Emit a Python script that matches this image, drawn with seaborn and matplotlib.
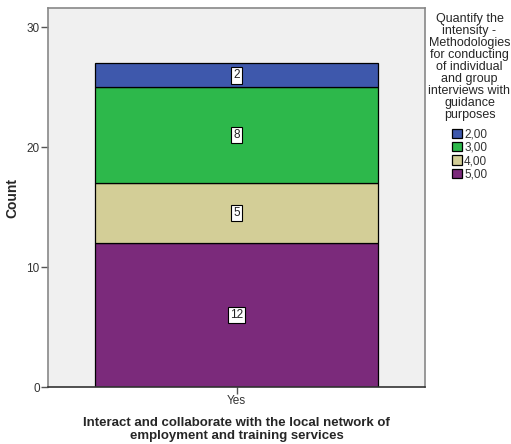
import numpy as np
import pandas as pd
import seaborn as sns
import matplotlib.pyplot as plt

# data
category = ["Yes"]
levels = ["2,00", "3,00", "4,00", "5,00"]
counts = [2, 8, 5, 12]
colors = ["#3e58ac", "#2db84b", "#d3ce97", "#7b2a7b"]

sns.set_style("white")
plt.rcParams["font.family"] = ["Liberation Sans", "DejaVu Sans"]

df = pd.DataFrame({"x": category * len(levels), "level": levels, "n": counts})

fig = plt.figure(figsize=(5.11, 4.44), dpi=100)
ax = fig.add_axes([48 / 511, 57 / 444, 377 / 511, 379 / 444])

sns.histplot(data=df, x="x", hue="level", weights="n", multiple="stack",
             hue_order=levels, palette=colors, discrete=True, shrink=0.75,
             alpha=1, edgecolor="black", linewidth=0.9, ax=ax)

ax.set_facecolor("#f0f0f0")
ax.set_xlim(-0.5, 0.5)
ax.set_ylim(0, 31.6)
ax.set_yticks([0, 10, 20, 30])
for s in ax.spines.values():
    s.set_color("#888888")
    s.set_linewidth(1.2)
ax.spines["bottom"].set_color("#333333")
ax.tick_params(axis="both", direction="out", length=5, width=1, color="#555555",
               labelsize=8.5, labelcolor="#333333", left=True, bottom=True, pad=1)

ax.set_ylabel("Count", fontsize=10, fontweight="bold", labelpad=5)
ax.set_xlabel("Interact and collaborate with the local network of\nemployment and training services",
              fontsize=9.5, fontweight="bold", labelpad=7, linespacing=1.1)

# value labels at the middle of each segment (bottom-up stacking: last level at bottom)
base = 0
for lvl, n in zip(levels[::-1], counts[::-1]):
    ax.text(0, base + n / 2, str(n), ha="center", va="center", fontsize=8.5,
            color="#222222",
            bbox=dict(boxstyle="square,pad=0.2", fc="white", ec="black", lw=0.8))
    base += n

sns.move_legend(ax, loc="upper center", bbox_to_anchor=(1.118, 0.998),
                title="Quantify the\nintensity -\nMethodologies\nfor conducting\nof individual\nand group\ninterviews with\nguidance\npurposes",
                frameon=False, fontsize=8.5, title_fontsize=9,
                handlelength=0.85, handleheight=0.85, handletextpad=0.2,
                labelspacing=0.12, borderaxespad=0)
leg = ax.get_legend()
leg._legend_box.align = "center"
leg._legend_box.sep = 5
leg.get_title().set_multialignment("center")
leg.get_title().set_linespacing(1.0)
for t in leg.get_texts():
    t.set_color("#333333")

fig.savefig("out.png", dpi=100)
